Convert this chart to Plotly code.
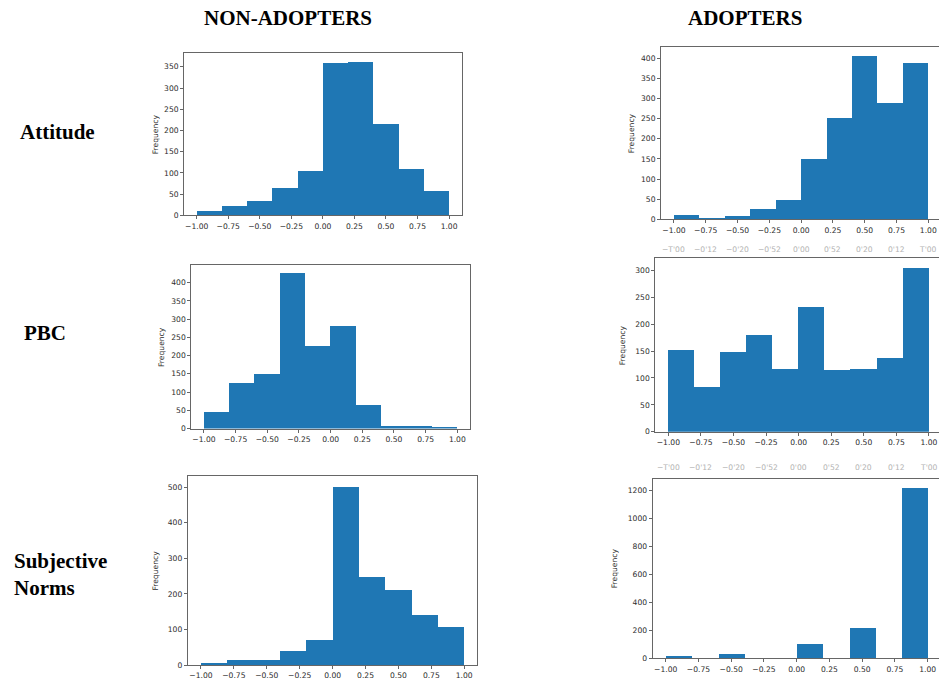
import numpy as np
import plotly.graph_objects as go

# Histogram bin edges shared by every panel
bin_edges = [-1.0, -0.8, -0.6, -0.4, -0.2, 0.0, 0.2, 0.4, 0.6, 0.8, 1.0]

# Frequencies per bin
na_attitude = [10, 22, 34, 64, 104, 360, 362, 215, 110, 57]
ad_attitude = [12, 2, 9, 27, 48, 151, 253, 406, 290, 388]
na_pbc = [45, 125, 150, 428, 228, 281, 66, 9, 8, 3]
ad_pbc = [152, 84, 148, 179, 116, 232, 115, 117, 137, 305]
na_norms = [5, 14, 14, 38, 68, 500, 245, 210, 140, 106]
ad_norms = [18, 0, 35, 0, 0, 105, 0, 220, 0, 1220]

x_tick_vals = [-1.0, -0.75, -0.5, -0.25, 0.0, 0.25, 0.5, 0.75, 1.0]
x_tick_text = ["−1.00", "−0.75", "−0.50", "−0.25", "0.00", "0.25", "0.50", "0.75", "1.00"]
faded_tick_text = ["−T'00", "−0'12", "−0'20", "−0'52", "0'00", "0'52", "0'20", "0'12", "T'00"]

column_titles = ["NON-ADOPTERS", "ADOPTERS"]
row_titles = ["Attitude", "PBC", "Subjective<br>Norms"]

W, H = 939, 683
BLUE = "#1f77b4"

edges = np.array(bin_edges)
centers = (edges[:-1] + edges[1:]) / 2
widths = np.diff(edges)

# panel geometry in pixels: left, right, top, bottom, x range, y max, y dtick, label offset, right spine
panels = [
    (na_attitude, 184.1, 461.7, 53.3, 217.0, [-1.1, 1.1], 382.7, 50, 29, True),
    (ad_attitude, 661.0, 939.0, 47.3, 221.0, [-1.102, 1.084], 428.0, 50, 30, False),
    (na_pbc, 191.3, 470.0, 266.7, 431.7, [-1.1, 1.1], 449.0, 50, 30, True),
    (ad_pbc, 655.3, 939.0, 260.0, 435.0, [-1.1, 1.077], 322.7, 50, 32, False),
    (na_norms, 187.8, 477.4, 480.0, 670.0, [-1.1, 1.1], 530.0, 100, 32, True),
    (ad_norms, 652.6, 939.0, 482.3, 663.3, [-1.1, 1.086], 1283.0, 200, 38, False),
]

tick_font = dict(family="DejaVu Sans", size=7.6, color="#2b2b2b")
line_col = "#666666"

fig = go.Figure()
layout = {}
annotations = []

for i, (vals, l, r, t, b, xr, ymax, dt, off, right_spine) in enumerate(panels, start=1):
    sx = "" if i == 1 else str(i)
    fig.add_trace(go.Bar(
        x=centers, y=vals, width=widths,
        marker=dict(color=BLUE, line=dict(width=0)),
        xaxis="x" + sx, yaxis="y" + sx, showlegend=False,
    ))
    layout["xaxis" + sx] = dict(
        domain=[l / W, r / W], range=xr, anchor="y" + sx,
        tickvals=x_tick_vals, ticktext=x_tick_text,
        ticks="outside", ticklen=3, tickcolor=line_col, tickwidth=1,
        showline=True, linecolor=line_col, linewidth=1, mirror=True,
        showgrid=False, zeroline=False, tickfont=tick_font, fixedrange=True,
    )
    layout["yaxis" + sx] = dict(
        domain=[1 - b / H, 1 - t / H], range=[0, ymax], anchor="x" + sx,
        dtick=dt, tick0=0,
        ticks="outside", ticklen=3, tickcolor=line_col, tickwidth=1,
        showline=True, linecolor=line_col, linewidth=1, mirror=right_spine,
        showgrid=False, zeroline=False, tickfont=tick_font, fixedrange=True,
    )
    annotations.append(dict(
        text="Frequency", xref="paper", yref="paper",
        x=(l - off) / W, y=1 - (t + b) / 2 / H, textangle=-90,
        showarrow=False, xanchor="center", yanchor="middle",
        font=dict(family="DejaVu Sans", size=7.6, color="#2b2b2b"),
    ))

# faded mirrored tick rows below the adopter panels
for sx, py in [("2", 251), ("4", 471)]:
    for xv, txt in zip(x_tick_vals, faded_tick_text):
        annotations.append(dict(
            text=txt, xref="x" + sx, yref="paper", x=xv, y=1 - py / H,
            showarrow=False, xanchor="center", yanchor="middle",
            font=dict(family="DejaVu Sans", size=7.6, color="#b3b3b3"),
        ))

title_font = dict(family="Liberation Serif", size=21, color="black")
for txt, px in zip(column_titles, [288, 745]):
    annotations.append(dict(
        text="<b>%s</b>" % txt, xref="paper", yref="paper",
        x=px / W, y=1 - 18 / H, showarrow=False,
        xanchor="center", yanchor="middle", font=title_font,
    ))

for txt, px, py in zip(row_titles, [18.3, 21.7, 11.7], [132.5, 335.8, 578.7]):
    annotations.append(dict(
        text="<b>%s</b>" % txt, xref="paper", yref="paper",
        x=px / W, y=1 - py / H, showarrow=False, align="left",
        xanchor="left", yanchor="middle", font=title_font,
    ))

fig.update_layout(
    width=W, height=H, margin=dict(l=0, r=0, t=0, b=0),
    paper_bgcolor="white", plot_bgcolor="white",
    annotations=annotations, bargap=0, **layout,
)

fig.write_html("out.html", config={"displayModeBar": False})
